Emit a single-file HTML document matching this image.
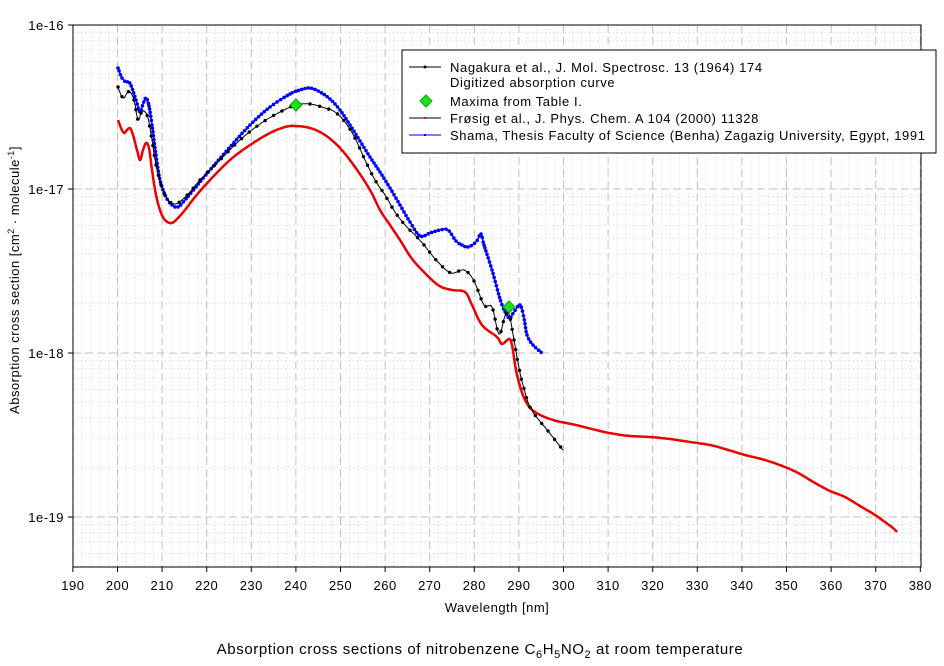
<!DOCTYPE html>
<html><head><meta charset="utf-8"><style>
html,body{margin:0;padding:0;background:#fff;width:944px;height:666px;overflow:hidden}
svg text{font-family:"Liberation Sans",Arial,sans-serif;fill:#000}
</style></head><body>
<svg id="s" width="944" height="666" xmlns="http://www.w3.org/2000/svg">
<g id="grid"></g>
<g id="curves"></g>
<rect x="73" y="25" width="848" height="542" fill="none" stroke="#000" stroke-width="1"/>
<g id="ticks"></g>
<g font-size="13" letter-spacing="0.5">
<text x="64" y="30" text-anchor="end">1e-16</text>
<text x="64" y="194" text-anchor="end">1e-17</text>
<text x="64" y="358" text-anchor="end">1e-18</text>
<text x="64" y="522" text-anchor="end">1e-19</text>
</g>
<g id="xl" font-size="13" letter-spacing="0.5"></g>
<text x="497" y="612" font-size="13" letter-spacing="0.5" text-anchor="middle">Wavelength [nm]</text>
<text transform="translate(19,280) rotate(-90)" font-size="13" letter-spacing="0.5" text-anchor="middle">Absorption cross section [cm<tspan font-size="9" dy="-5">2</tspan><tspan dy="5"> · molecule</tspan><tspan font-size="9" dy="-5">-1</tspan><tspan dy="5">]</tspan></text>
<text x="480" y="654" font-size="15" letter-spacing="0.6" text-anchor="middle">Absorption cross sections of nitrobenzene C<tspan font-size="11" dy="4">6</tspan><tspan dy="-4">H</tspan><tspan font-size="11" dy="4">5</tspan><tspan dy="-4">NO</tspan><tspan font-size="11" dy="4">2</tspan><tspan dy="-4"> at room temperature</tspan></text>
<rect x="402" y="50" width="534" height="103" fill="#fff" stroke="#000"/>
<g font-size="13" letter-spacing="0.6">
<line x1="409" y1="67" x2="441" y2="67" stroke="#000"/><circle cx="425" cy="67" r="1.5" fill="#000"/>
<text x="450" y="72">Nagakura et al., J. Mol. Spectrosc. 13 (1964) 174</text>
<text x="450" y="87">Digitized absorption curve</text>
<polygon points="426,95 432,101 426,107 420,101" fill="#22dd22" stroke="#0a0"/>
<text x="450" y="106">Maxima from Table I.</text>
<line x1="409" y1="118" x2="441" y2="118" stroke="#000"/><rect x="424" y="117" width="2" height="2" fill="#f00"/>
<text x="450" y="123">Frøsig et al., J. Phys. Chem. A 104 (2000) 11328</text>
<line x1="409" y1="135" x2="441" y2="135" stroke="#00c"/><rect x="424" y="134" width="2" height="2" fill="#00f"/>
<text x="450" y="140">Shama, Thesis Faculty of Science (Benha) Zagazig University, Egypt, 1991</text>
</g>
</svg>
<script>
var NS="http://www.w3.org/2000/svg";
function el(p,t,a){var e=document.createElementNS(NS,t);for(var k in a)e.setAttribute(k,a[k]);p.appendChild(e);return e;}
var g=document.getElementById('grid'),tk=document.getElementById('ticks'),xl=document.getElementById('xl');
function X(w){return 117.5+(w-200)*4.46;}
var decY=[25,189,353,517,681];
for(var w=190;w<=380;w+=2){var x=X(w);if(w%10==0)continue;el(g,'line',{x1:x,y1:25,x2:x,y2:567,stroke:'#d4d4d4','stroke-dasharray':'1,3'});}
for(var d=0;d<4;d++){for(var m=2;m<=9;m++){var y=decY[d+1]-164*Math.log10(m);if(y<25||y>567)continue;el(g,'line',{x1:73,y1:y,x2:921,y2:y,stroke:'#d4d4d4','stroke-dasharray':'1,3'});}}
for(var m=5;m<=9;m++){var y=681-164*Math.log10(m);el(g,'line',{x1:73,y1:y,x2:921,y2:y,stroke:'#d4d4d4','stroke-dasharray':'1,3'});}
for(var w=190;w<=380;w+=10){var x=X(w);el(g,'line',{x1:x,y1:25,x2:x,y2:567,stroke:'#c0c0c0','stroke-dasharray':'8,4'});
el(tk,'line',{x1:x,y1:567,x2:x,y2:572,stroke:'#000'});var t=el(xl,'text',{x:x,y:590,'text-anchor':'middle'});t.textContent=w;}
for(var d=1;d<4;d++){el(g,'line',{x1:73,y1:decY[d],x2:921,y2:decY[d],stroke:'#c0c0c0','stroke-dasharray':'8,4'});}
for(var d=0;d<4;d++)el(tk,'line',{x1:68,y1:decY[d],x2:73,y2:decY[d],stroke:'#000'});
function cr(pts,step){var out=[];for(var i=0;i<pts.length-1;i++){var p0=pts[Math.max(0,i-1)],p1=pts[i],p2=pts[i+1],p3=pts[Math.min(pts.length-1,i+2)];
var n=Math.max(1,Math.ceil(Math.hypot(p2[0]-p1[0],p2[1]-p1[1])/step));for(var j=0;j<n;j++){var t=j/n,t2=t*t,t3=t2*t;
out.push([0.5*(2*p1[0]+(-p0[0]+p2[0])*t+(2*p0[0]-5*p1[0]+4*p2[0]-p3[0])*t2+(-p0[0]+3*p1[0]-3*p2[0]+p3[0])*t3),
0.5*(2*p1[1]+(-p0[1]+p2[1])*t+(2*p0[1]-5*p1[1]+4*p2[1]-p3[1])*t2+(-p0[1]+3*p1[1]-3*p2[1]+p3[1])*t3)]);}}
out.push(pts[pts.length-1]);return out;}
var C=document.getElementById('curves');
function draw(pts,col,w,mk,mr,mstep){var p=cr(pts,2);el(C,'polyline',{points:p.map(function(a){return a[0].toFixed(1)+','+a[1].toFixed(1)}).join(' '),fill:'none',stroke:col,'stroke-width':w,'stroke-linejoin':'round'});
if(mk){var acc=1e9,last=null;for(var i=0;i<p.length;i++){if(last)acc+=Math.hypot(p[i][0]-last[0],p[i][1]-last[1]);last=p[i];if(acc>=mstep){acc=0;el(C,'circle',{cx:p[i][0],cy:p[i][1],r:mr,fill:mk});}}}}
var red=[[118,120],[121,128],[124,133],[127,130],[130,128],[133,135],[137,150],[140,160],[143,150],[146,143],[149,148],[152,170],[156,195],[161,213],[166,221],[172,223],[178,218],[185,210],[195,197],[210,180],[230,160],[250,145],[270,133],[285,127],[295,126],[310,128],[325,135],[340,148],[355,167],[370,190],[380,210],[390,225],[400,240],[410,256],[420,268],[438,285],[452,290],[465,292],[472,305],[482,325],[497,337],[502,344],[509,339],[512,345],[517,375],[525,400],[535,412],[553,420],[576,425],[600,431],[615,434],[630,436],[650,437],[670,439],[690,442],[710,445],[725,449],[745,455],[765,460],[785,467],[800,474],[815,483],[830,491],[845,497],[860,506],[875,515],[885,522],[893,528],[897,532]];
var blue=[[118,68],[122,78],[126,82],[129,82],[132,88],[136,100],[140,112],[143,104],[146,98],[149,106],[152,125],[156,155],[160,180],[166,197],[172,205],[178,207],[185,200],[195,188],[210,170],[230,147],[250,125],[270,107],[290,94],[300,90],[310,88],[320,92],[330,99],[340,110],[350,125],[360,141],[370,157],[380,172],[390,188],[400,205],[410,222],[420,236],[430,233],[440,230],[448,230],[456,241],[462,245],[468,247],[476,242],[481,234],[484,245],[492,270],[501,302],[507,315],[510,318],[514,312],[520,305],[524,318],[527,335],[533,345],[542,353]];
var black=[[118,87],[121,95],[124,98],[127,93],[130,92],[134,100],[138,120],[141,113],[144,111],[148,118],[152,140],[156,165],[162,188],[168,200],[175,204],[182,200],[190,192],[200,180],[220,160],[240,140],[260,124],[280,112],[296,105],[310,104],[325,108],[335,112],[345,122],[355,138],[365,160],[375,180],[385,195],[395,212],[405,225],[415,235],[424,245],[437,261],[451,273],[464,270],[474,281],[484,305],[492,307],[499,334],[505,316],[509,314],[514,340],[519,368],[523,385],[531,409],[548,431],[563,450]];
draw(red,'#ee0000',2.5,null,0,0);
draw(blue,'#0000ee',1.5,'#0000ff',1.8,2.5);
draw(black,'#000',1,'#000',1.7,9);
[[296,105],[509,307]].forEach(function(p){el(C,'polygon',{points:(p[0])+','+(p[1]-6)+' '+(p[0]+6)+','+p[1]+' '+p[0]+','+(p[1]+6)+' '+(p[0]-6)+','+p[1],fill:'#22dd22',stroke:'#0a0'});});
</script>
</body></html>
